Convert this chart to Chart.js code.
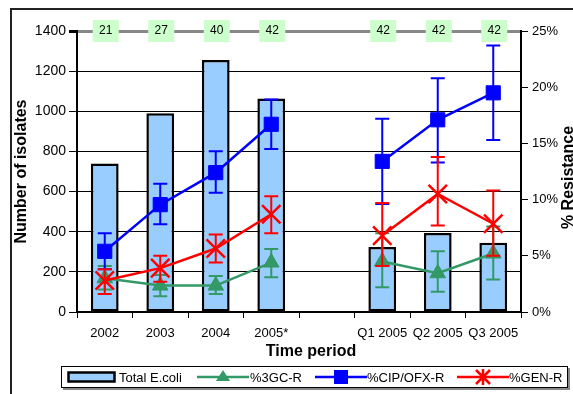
<!DOCTYPE html>
<html lang="en">
<head>
    <meta charset="UTF-8">
    <title>E. coli isolates and resistance by time period</title>
    <script src="https://cdn.jsdelivr.net/npm/chart.js"></script>
    <style>
        body {
            margin: 0;
            background: #fff;
        }

        .wrap {
            position: relative;
            width: 573px;
            height: 394px;
            overflow: hidden;
            font-family: 'Liberation Sans', Arial, sans-serif;
        }

        .frame {
            position: absolute;
            left: 10px;
            top: 8px;
            width: 600px;
            height: 500px;
            border: 2px solid #222;
        }

        canvas {
            position: absolute;
            left: 0;
            top: 0;
        }

        .legend {
            position: absolute;
            left: 61px;
            top: 366px;
            width: 505px;
            height: 20px;
            border: 1px solid #000;
            box-shadow: 2px 2px 0 #888;
            background: #fff;
        }

        .legend svg, .legend span {
            position: absolute;
        }

        .legend span {
            top: 3px;
            font-size: 13px;
            color: #000;
        }
    </style>
</head>
<body>
    <div class="wrap">
        <div class="frame"></div>
        <canvas id="isolatesChart" width="573" height="394"></canvas>

        <!-- legend drawn by hand, Excel style -->
        <div class="legend">
            <svg style="left:5px;top:4px" width="50" height="12">
                <rect x="1.5" y="1.5" width="46" height="9" fill="#99ccff" stroke="#000" stroke-width="2.5"/>
            </svg>
            <span style="left:57px">Total E.coli</span>

            <svg style="left:135px;top:0" width="52" height="20">
                <line x1="0" y1="10" x2="52" y2="10" stroke="#339966" stroke-width="2.5"/>
                <polygon points="26,3 33,14 19,14" fill="#339966"/>
            </svg>
            <span style="left:188px">%3GC-R</span>

            <svg style="left:253px;top:0" width="52" height="20">
                <line x1="0" y1="10" x2="52" y2="10" stroke="#0000ff" stroke-width="2.5"/>
                <rect x="19" y="3" width="14" height="14" fill="#0000ff"/>
            </svg>
            <span style="left:305px">%CIP/OFX-R</span>

            <svg style="left:395px;top:0" width="52" height="20">
                <line x1="0" y1="10" x2="52" y2="10" stroke="#ff0000" stroke-width="2.5"/>
                <path d="M19,3 L33,17 M33,3 L19,17 M26,2 L26,18" stroke="#ff0000" stroke-width="2.5"/>
            </svg>
            <span style="left:447px">%GEN-R</span>
        </div>
    </div>

    <script>
        // categories (blank slot separates years from quarters)
        var periods = ['2002', '2003', '2004', '2005*', '', 'Q1 2005', 'Q2 2005', 'Q3 2005'];

        // number of labs reporting, shown in the green boxes
        var labCounts = [21, 27, 40, 42, null, 42, 42, 42];

        // total E.coli isolates (left axis)
        var totalEcoli = [740, 990, 1255, 1064, null, 324, 394, 345];

        // % resistance (right axis) with 95% limits
        var gc3 = [3.0, 2.35, 2.35, 4.4, null, 4.5, 3.45, 5.2];
        var gc3Low = [2.0, 1.4, 1.6, 3.1, null, 2.2, 1.8, 2.9];
        var gc3High = [4.1, 3.3, 3.2, 5.6, null, 7.0, 5.4, 7.6];

        var cip = [5.4, 9.55, 12.4, 16.7, null, 13.4, 17.1, 19.5];
        var cipLow = [3.8, 7.8, 10.6, 14.5, null, 9.6, 13.3, 15.3];
        var cipHigh = [7.0, 11.4, 14.3, 18.9, null, 17.2, 20.8, 23.7];

        var gen = [2.8, 3.9, 5.65, 8.7, null, 6.8, 10.5, 7.85];
        var genLow = [1.6, 2.7, 4.4, 7.0, null, 4.1, 7.7, 5.0];
        var genHigh = [3.8, 5.0, 6.9, 10.3, null, 9.7, 13.8, 10.8];

        // tick labels
        var countTicks = [0, 200, 400, 600, 800, 1000, 1200, 1400];
        var pctTicks = [0, 5, 10, 15, 20, 25];

        var FONT = "'Liberation Sans', Arial, sans-serif";

        // error limits per dataset index
        var errLimits = {
            1: [gc3Low, gc3High],
            2: [cipLow, cipHigh],
            3: [genLow, genHigh]
        };

        // draw the error bars just before each line so markers sit on top
        var errorBarPlugin = {
            id: 'errorBars',
            beforeDatasetDraw: function (chart, args) {
                var lim = errLimits[args.index];
                if (!lim) return;
                var ds = chart.data.datasets[args.index];
                var ctx = chart.ctx;
                var xs = chart.scales.x, ys = chart.scales.y1;
                ctx.save();
                ctx.strokeStyle = ds.borderColor;
                ctx.lineWidth = 2;
                ds.data.forEach(function (v, i) {
                    if (v === null) return;
                    var px = xs.getPixelForValue(i);
                    var top = ys.getPixelForValue(lim[1][i]);
                    var bot = ys.getPixelForValue(lim[0][i]);
                    ctx.beginPath();
                    ctx.moveTo(px, top); ctx.lineTo(px, bot);
                    ctx.moveTo(px - 7, top); ctx.lineTo(px + 7, top);
                    ctx.moveTo(px - 7, bot); ctx.lineTo(px + 7, bot);
                    ctx.stroke();
                });
                ctx.restore();
            }
        };

        // green count boxes on the top line, plus axis titles
        var extrasPlugin = {
            id: 'extras',
            afterDatasetsDraw: function (chart) {
                var ctx = chart.ctx;
                var xs = chart.scales.x, ys = chart.scales.y;
                ctx.save();
                ctx.font = '12px ' + FONT;
                ctx.textAlign = 'center';
                ctx.textBaseline = 'middle';
                labCounts.forEach(function (n, i) {
                    if (n === null) return;
                    var px = xs.getPixelForValue(i) + 1;
                    var py = ys.getPixelForValue(1400);
                    ctx.fillStyle = '#ccffcc';
                    ctx.fillRect(px - 13, py - 11, 26, 22);
                    ctx.fillStyle = '#000';
                    ctx.fillText(String(n), px, py);
                });
                ctx.restore();
            },
            afterDraw: function (chart) {
                var ctx = chart.ctx;
                var area = chart.chartArea;
                var midY = (area.top + area.bottom) / 2;
                ctx.save();
                ctx.fillStyle = '#000';
                ctx.font = 'bold 16px ' + FONT;
                ctx.textAlign = 'center';
                ctx.textBaseline = 'middle';
                ctx.fillText('Time period', 311, 352);

                ctx.translate(22, midY);
                ctx.rotate(-Math.PI / 2);
                ctx.fillText('Number of isolates', 0, 0);
                ctx.restore();

                ctx.save();
                ctx.fillStyle = '#000';
                ctx.font = 'bold 16px ' + FONT;
                ctx.textAlign = 'center';
                ctx.textBaseline = 'middle';
                ctx.translate(569, midY + 6);
                ctx.rotate(-Math.PI / 2);
                ctx.fillText('% Resistance', 0, 0);
                ctx.restore();
            }
        };

        var ctx = document.getElementById('isolatesChart').getContext('2d');
        var isolatesChart = new Chart(ctx, {
            data: {
                labels: periods,
                datasets: [
                    {
                        type: 'bar',
                        label: 'Total E.coli',
                        data: totalEcoli,
                        yAxisID: 'y',
                        backgroundColor: '#99ccff',
                        borderColor: '#000',
                        borderWidth: 2.5,
                        borderSkipped: false,
                        categoryPercentage: 1,
                        barPercentage: 0.5,
                        order: 4
                    },
                    {
                        type: 'line',
                        label: '%3GC-R',
                        data: gc3,
                        yAxisID: 'y1',
                        borderColor: '#339966',
                        backgroundColor: '#339966',
                        borderWidth: 2.5,
                        pointStyle: 'triangle',
                        pointRadius: 9,
                        pointBorderWidth: 1,
                        tension: 0,
                        spanGaps: false,
                        order: 3
                    },
                    {
                        type: 'line',
                        label: '%CIP/OFX-R',
                        data: cip,
                        yAxisID: 'y1',
                        borderColor: '#0000ff',
                        backgroundColor: '#0000ff',
                        borderWidth: 2.5,
                        pointStyle: 'rect',
                        pointRadius: 10,
                        pointBorderWidth: 1,
                        tension: 0,
                        spanGaps: false,
                        order: 2
                    },
                    {
                        type: 'line',
                        label: '%GEN-R',
                        data: gen,
                        yAxisID: 'y1',
                        borderColor: '#ff0000',
                        backgroundColor: '#ff0000',
                        borderWidth: 2.5,
                        pointStyle: 'crossRot',
                        pointRadius: 13,
                        pointBorderWidth: 2.5,
                        tension: 0,
                        spanGaps: false,
                        order: 1
                    }
                ]
            },
            options: {
                responsive: false,
                animation: false,
                layout: {
                    padding: { left: 0, right: 0, top: 31, bottom: 28 }
                },
                plugins: {
                    legend: { display: false },
                    tooltip: { enabled: false }
                },
                scales: {
                    x: {
                        offset: true,
                        grid: {
                            offset: true,
                            drawOnChartArea: false,
                            tickLength: 6,
                            color: '#000'
                        },
                        border: { color: '#000', width: 2 },
                        ticks: {
                            color: '#000',
                            font: { family: FONT, size: 13 },
                            padding: 8,
                            maxRotation: 0,
                            autoSkip: false
                        },
                        afterFit: function (scale) { scale.height = 54; }
                    },
                    y: {
                        position: 'left',
                        min: 0,
                        max: 1400,
                        afterBuildTicks: function (scale) {
                            scale.ticks = countTicks.map(function (v) { return { value: v }; });
                        },
                        grid: {
                            color: function (c) { return c.tick && c.tick.value === 1400 ? '#888' : '#000'; },
                            lineWidth: function (c) { return c.tick && c.tick.value === 1400 ? 3 : 1; },
                            tickColor: '#000',
                            tickLength: 8
                        },
                        border: { color: '#000', width: 2 },
                        ticks: {
                            color: '#000',
                            font: { family: FONT, size: 14 },
                            padding: 3,
                            callback: function (v) { return String(v); }
                        },
                        afterFit: function (scale) { scale.width = 77; }
                    },
                    y1: {
                        position: 'right',
                        min: 0,
                        max: 25,
                        afterBuildTicks: function (scale) {
                            scale.ticks = pctTicks.map(function (v) { return { value: v }; });
                        },
                        grid: {
                            drawOnChartArea: false,
                            color: '#000',
                            tickLength: 7
                        },
                        border: { color: '#000', width: 2 },
                        ticks: {
                            color: '#000',
                            font: { family: FONT, size: 13 },
                            padding: 4,
                            callback: function (v) { return v + '%'; }
                        },
                        afterFit: function (scale) { scale.width = 52; }
                    }
                }
            },
            plugins: [errorBarPlugin, extrasPlugin]
        });
    </script>
</body>
</html>
